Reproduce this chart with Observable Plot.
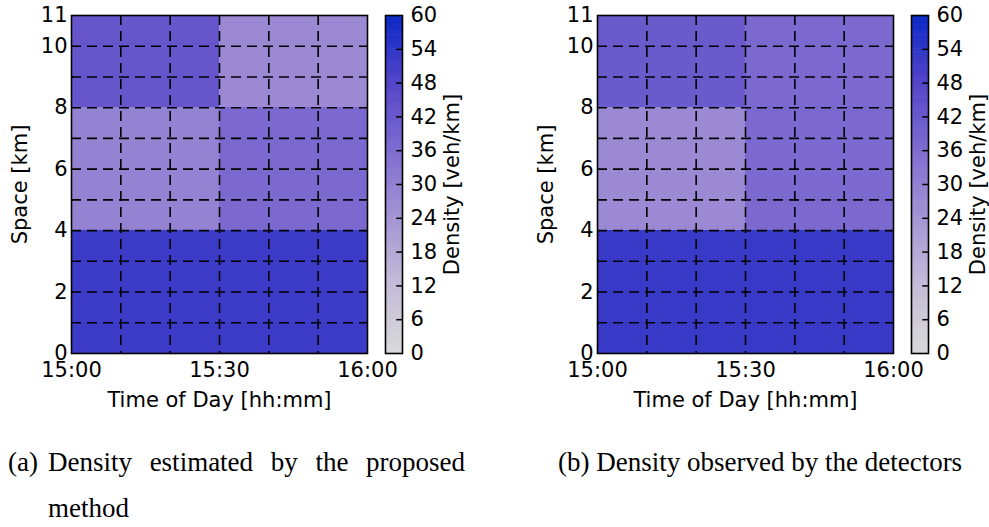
<!DOCTYPE html>
<html><head><meta charset="utf-8">
<script src="https://cdn.jsdelivr.net/npm/d3@7"></script>
<script src="https://cdn.jsdelivr.net/npm/@observablehq/plot@0.6"></script>
<style>
body{margin:0;background:#fff;}
#root{position:relative;width:989px;height:527px;overflow:hidden;background:#fff;}
.abs{position:absolute;top:0;width:420px;}
.abs svg{overflow:visible;max-width:none !important;}
.cap{position:absolute;font-family:"Liberation Serif","Times New Roman",serif;font-size:27px;color:#000;line-height:46px;}
</style></head><body><div id="root"></div>
<script>
// ---- data ----
const timeEdges = ["15:00", "15:30", "16:00"];      // boundaries of time blocks
const timeTicks = ["15:00", "15:30", "16:00"];
const spaceEdges = [0, 4, 8, 11];                   // boundaries of space segments (km)
const gridTimes = ["15:10", "15:20", "15:30", "15:40", "15:50"];
const gridSpace = [1, 2, 3, 4, 5, 6, 7, 8, 9, 10];
const spaceTicks = [0, 2, 4, 6, 8, 10, 11];
const densityTicks = [0, 6, 12, 18, 24, 30, 36, 42, 48, 54, 60];
const densityDomain = [0, 60];
const cmapStops = ["#d9d9d9", "#c4bcd8", "#a494d4", "#7e6cd0", "#5444c8", "#0a28c6"];
// density [veh/km]; rows = space segment (bottom -> top), cols = time block
const estimatedDensity = [[52, 52], [29, 37], [43, 27]];
const observedDensity  = [[52.5, 52.5], [27, 37], [41.5, 37]];
const captionLabels = ["(a)", "(b)"];
const captionTexts = ["Density estimated by the proposed method", "Density observed by the detectors"];
const xLabel = "Time of Day [hh:mm]";
const yLabel = "Space [km]";
const cLabel = "Density [veh/km]";

// ---- helpers ----
const toMin = s => { const [h, m] = s.split(":").map(Number); return h * 60 + m; };
const fmtMin = v => `${Math.floor(v / 60)}:${String(v % 60).padStart(2, "0")}`;
const colorOpts = {type: "linear", domain: densityDomain, interpolate: d3.piecewise(d3.interpolateRgb, cmapStops)};
const FONT = "'DejaVu Sans', sans-serif";
const FS = 21;

function cellsOf(matrix) {
  const out = [];
  matrix.forEach((row, i) => row.forEach((v, j) => out.push({
    x1: toMin(timeEdges[j]), x2: toMin(timeEdges[j + 1]),
    y1: spaceEdges[i], y2: spaceEdges[i + 1], v
  })));
  return out;
}

function heatmap(matrix) {
  const dash = "10,6";
  return Plot.plot({
    width: 384, height: 420,
    marginLeft: 71, marginRight: 17, marginTop: 15, marginBottom: 67,
    style: {fontFamily: FONT, fontSize: FS + "px", background: "transparent", color: "black", overflow: "visible"},
    x: {domain: [toMin(timeEdges[0]), toMin(timeEdges[timeEdges.length - 1])]},
    y: {domain: [spaceEdges[0], spaceEdges[spaceEdges.length - 1]]},
    color: colorOpts,
    marks: [
      Plot.rect(cellsOf(matrix), {x1: "x1", x2: "x2", y1: "y1", y2: "y2", fill: "v", shapeRendering: "crispEdges"}),
      Plot.ruleX(gridTimes.map(toMin), {stroke: "black", strokeWidth: 1.6, strokeDasharray: dash}),
      Plot.ruleY(gridSpace, {stroke: "black", strokeWidth: 1.6, strokeDasharray: dash}),
      Plot.frame({stroke: "black", strokeWidth: 1.6}),
      Plot.axisX({ticks: timeTicks.map(toMin), tickFormat: fmtMin, tickSize: 0, tickPadding: 9, label: null}),
      Plot.axisY({ticks: spaceTicks, tickSize: 0, tickPadding: 4, label: null}),
      Plot.text([xLabel], {text: d => d, frameAnchor: "bottom", dy: 47, lineAnchor: "middle", textAnchor: "middle", fontSize: FS}),
      Plot.text([yLabel], {text: d => d, frameAnchor: "left", dx: -51, rotate: -90, lineAnchor: "middle", textAnchor: "middle", fontSize: FS})
    ]
  });
}

function colorbar() {
  const step = 0.5;
  const strips = d3.range(densityDomain[0], densityDomain[1], step).map(v => ({y1: v, y2: Math.min(v + step * 1.2, densityDomain[1]), v: v + step / 2}));
  return Plot.plot({
    width: 112, height: 420,
    marginLeft: 15, marginRight: 80, marginTop: 15, marginBottom: 67,
    style: {fontFamily: FONT, fontSize: FS + "px", background: "transparent", color: "black", overflow: "visible"},
    x: {domain: [0, 1], axis: null},
    y: {domain: densityDomain},
    color: colorOpts,
    marks: [
      Plot.rect(strips, {x1: 0, x2: 1, y1: "y1", y2: "y2", fill: "v"}),
      Plot.ruleY(densityTicks.slice(1, -1), {x1: 0.66, x2: 1, stroke: "black", strokeWidth: 1.5}),
      Plot.frame({stroke: "black", strokeWidth: 1.6}),
      Plot.axisY({anchor: "right", ticks: densityTicks, tickSize: 0, tickPadding: 8, label: null}),
      Plot.text([cLabel], {text: d => d, frameAnchor: "right", dx: 50, rotate: -90, lineAnchor: "middle", textAnchor: "middle", fontSize: FS})
    ]
  });
}

const root = document.getElementById("root");
const panelOffsets = [0, 526];
[estimatedDensity, observedDensity].forEach((m, k) => {
  const a = document.createElement("div"); a.className = "abs"; a.style.left = panelOffsets[k] + "px";
  a.appendChild(heatmap(m)); root.appendChild(a);
  const b = document.createElement("div"); b.className = "abs"; b.style.left = (panelOffsets[k] + 370) + "px";
  b.appendChild(colorbar()); root.appendChild(b);
});

// captions
const capA = document.createElement("div");
capA.className = "cap"; capA.style.left = "8px"; capA.style.top = "439px"; capA.style.width = "457px"; capA.style.display = "flex";
capA.innerHTML = `<span style="flex:none;width:40px">${captionLabels[0]}</span><span style="flex:1;text-align:justify">${captionTexts[0]}</span>`;
root.appendChild(capA);
const capB = document.createElement("div");
capB.className = "cap"; capB.style.left = "558px"; capB.style.top = "439px"; capB.style.whiteSpace = "nowrap";
capB.textContent = `${captionLabels[1]} ${captionTexts[1]}`;
root.appendChild(capB);
</script></body></html>
